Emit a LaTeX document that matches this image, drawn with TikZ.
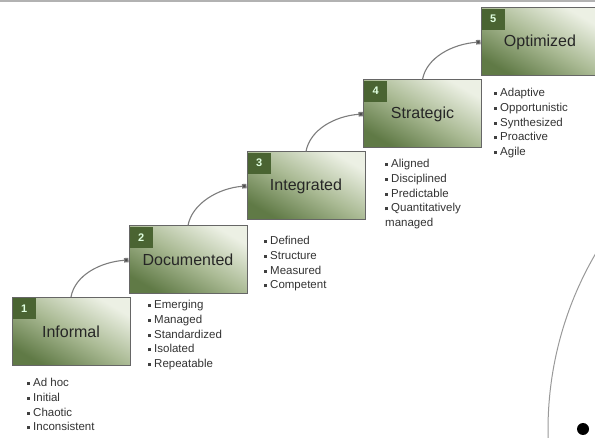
\documentclass[tikz,border=0pt]{standalone}
\usepackage{fontspec}
\setmainfont{Liberation Sans}
\usetikzlibrary{arrows.meta}
\definecolor{gdark}{RGB}{96,122,70}
\definecolor{gmid}{RGB}{170,186,148}
\definecolor{glight}{RGB}{236,240,228}
\definecolor{gnum}{RGB}{74,100,50}
\definecolor{lgray}{RGB}{125,125,125}
\newcommand\bl{\textcolor{black!75}{\rule[1.5pt]{3pt}{3pt}}\hspace{3pt}}
\begin{document}
\begin{tikzpicture}[x=1pt,y=-1pt,
 stage/.style={draw=black!60, line width=1pt, minimum width=118pt, minimum height=68pt, inner sep=0,
   top color=glight, bottom color=gdark, middle color=gmid, shading angle=-30,
   font=\fontsize{16}{19}\selectfont, text=black!85},
 numbox/.style={fill=gnum, minimum width=23pt, minimum height=21pt, inner sep=0, anchor=north west,
   font=\bfseries\fontsize{11}{13}\selectfont, text=green!12!white},
 items/.style={anchor=north west, inner sep=0, align=left, font=\fontsize{11.5}{14.8}\selectfont, text=black!80},
 link/.style={draw=lgray, line width=1.1pt, -{Square[length=4.5pt,width=4.5pt,fill=black!70]}}
]
\useasboundingbox (0,0) rectangle (595,438);
\draw[gray!60, line width=2.5pt] (0,0.5) -- (595,0.5);

\node[stage] (b1) at (71,331.5) {Informal};
\node[stage] (b2) at (188,260) {Documented};
\node[stage] (b3) at (306,186) {Integrated};
\node[stage] (b4) at (422.5,114) {Strategic};
\node[stage] (b5) at (540,42) {Optimized};

\foreach \i in {1,...,5}{
  \node[numbox] (n\i) at ([shift={(1,1)}]b\i.north west) {\i};
}

\draw[link] (b1.north) .. controls +(4,-22) and +(-28,2) .. (b2.west);
\draw[link] (b2.north) .. controls +(4,-22) and +(-28,2) .. (b3.west);
\draw[link] (b3.north) .. controls +(4,-22) and +(-28,2) .. (b4.west);
\draw[link] (b4.north) .. controls +(4,-22) and +(-28,2) .. (b5.west);

\node[items] (l1) at (27,378) {\bl Ad hoc\\\bl Initial\\\bl Chaotic\\\bl Inconsistent};
\node[items] (l2) at (148,300) {\bl Emerging\\\bl Managed\\\bl Standardized\\\bl Isolated\\\bl Repeatable};
\node[items] (l3) at (264,236) {\bl Defined\\\bl Structure\\\bl Measured\\\bl Competent};
\node[items] (l4) at (385,159) {\bl Aligned\\\bl Disciplined\\\bl Predictable\\\bl Quantitatively\\managed};
\node[items] (l5) at (494,88) {\bl Adaptive\\\bl Opportunistic\\\bl Synthesized\\\bl Proactive\\\bl Agile};

\begin{scope}
\clip (0,0) rectangle (595,438);
\draw[gray!80, line width=1pt] (898,430) circle[radius=350];
\end{scope}
\fill[black] (583,429) circle[radius=6];
\end{tikzpicture}
\end{document}
